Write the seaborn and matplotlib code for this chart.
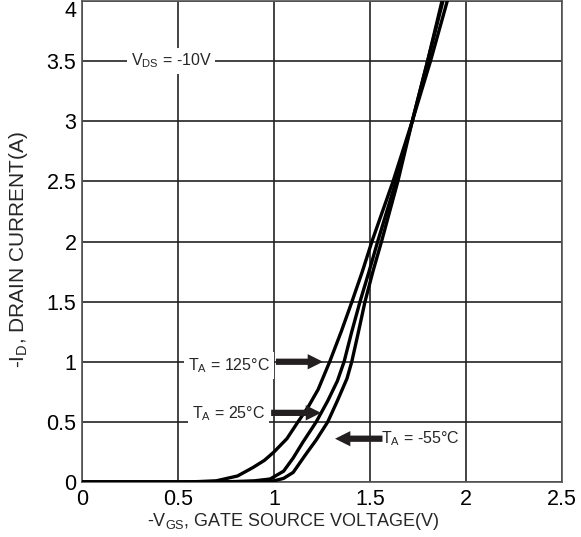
import matplotlib
matplotlib.use("Agg")
import matplotlib.pyplot as plt
import seaborn as sns
import pandas as pd

# Transfer characteristics: -VGS (V) vs -ID (A) at three ambient temperatures
vgs_125 = [0.0, 0.5, 0.6, 0.7, 0.81, 0.89, 0.95, 1.0, 1.067, 1.125, 1.18, 1.23,
           1.29, 1.35, 1.406, 1.46, 1.51, 1.565, 1.62, 1.72, 1.815, 1.92]
id_125 = [0.0, 0.0, 0.003, 0.01, 0.05, 0.12, 0.18, 0.25, 0.36, 0.5, 0.63, 0.77,
          1.0, 1.25, 1.5, 1.75, 2.0, 2.25, 2.5, 3.0, 3.5, 4.1]

vgs_25 = [0.0, 0.7, 0.8, 0.9, 0.98, 1.05, 1.10, 1.15, 1.22, 1.28, 1.33, 1.365,
          1.405, 1.448, 1.495, 1.54, 1.635, 1.72, 1.80, 1.88, 1.90]
id_25 = [0.0, 0.0, 0.004, 0.01, 0.025, 0.09, 0.2, 0.33, 0.5, 0.675, 0.84, 1.0,
         1.25, 1.5, 1.75, 2.0, 2.5, 3.0, 3.5, 4.0, 4.1]

vgs_m55 = [0.0, 0.85, 0.95, 1.0, 1.05, 1.10, 1.17, 1.22, 1.28, 1.33, 1.38, 1.405,
           1.44, 1.474, 1.515, 1.56, 1.645, 1.72, 1.80, 1.875, 1.895]
id_m55 = [0.0, 0.0, 0.004, 0.01, 0.03, 0.08, 0.24, 0.35, 0.5, 0.675, 0.86, 1.0,
          1.25, 1.5, 1.75, 2.0, 2.5, 3.0, 3.5, 4.0, 4.1]

temps = ["125", "25", "-55"]
x_ticks = [0, 0.5, 1, 1.5, 2, 2.5]
x_tick_labels = ["0", "0.5", "1", "1.5", "2", "2.5"]
y_ticks = [0, 0.5, 1, 1.5, 2, 2.5, 3, 3.5, 4]
y_tick_labels = ["0", "0.5", "1", "1.5", "2", "2.5", "3", "3.5", "4"]

frames = []
for t, xs, ys in zip(temps, [vgs_125, vgs_25, vgs_m55], [id_125, id_25, id_m55]):
    frames.append(pd.DataFrame({"vgs": xs, "id": ys, "temp": t}))
df = pd.concat(frames, ignore_index=True)

sns.set_style("white")
plt.rcParams["font.family"] = ["Liberation Sans", "DejaVu Sans"]

fig = plt.figure(figsize=(5.81, 5.37), dpi=100)
ax = fig.add_axes([82 / 581, 1 - 482 / 537, 480 / 581, 481 / 537])

sns.lineplot(data=df, x="vgs", y="id", hue="temp", units="temp",
             estimator=None, sort=False, palette=["black"] * 3,
             linewidth=2.4, legend=False, ax=ax, zorder=3)

ax.set_xlim(0, 2.5)
ax.set_ylim(0, 4)
ax.set_xticks(x_ticks)
ax.set_xticklabels(x_tick_labels)
ax.set_yticks(y_ticks)
ax.set_yticklabels(y_tick_labels)
ax.tick_params(axis="both", length=0, labelsize=15.5, colors="black")
ax.tick_params(axis="y", pad=4)
ax.tick_params(axis="x", pad=5)
ax.get_yticklabels()[-1].set_verticalalignment("top")
ax.grid(True, color="#222222", linewidth=1.2)
ax.set_axisbelow(True)
for side, sp in ax.spines.items():
    sp.set_visible(True)
    sp.set_color("#555555")
    sp.set_linewidth(1.2)

ax.set_xlabel("-V$_{\\mathregular{GS}}$, GATE SOURCE VOLTAGE(V)", fontsize=13)
ax.xaxis.set_label_coords(0.44, -0.06)
ax.set_ylabel("-I$_{\\mathregular{D}}$, DRAIN CURRENT(A)", fontsize=15)
ax.yaxis.set_label_coords(-0.108, 0.484)

box = dict(boxstyle="square,pad=0.25", fc="white", ec="none")
label_kw = dict(fontsize=11.5, ha="center", va="center", bbox=box, zorder=4)

ax.text(0.464, 3.5, "V$_{\\mathregular{DS}}$ = -10V", **label_kw)
ax.text(0.765, 0.97, "T$_{\\mathregular{A}}$ = 125°C", **label_kw)
ax.text(0.765, 0.57, "T$_{\\mathregular{A}}$ = 25°C", **label_kw)
ax.text(1.76, 0.36, "T$_{\\mathregular{A}}$ = -55°C", **label_kw)

arrow = dict(facecolor="#231f20", edgecolor="none", width=4.5, headwidth=11,
             headlength=11, shrink=0)
ax.annotate("", xy=(1.255, 1.0), xytext=(1.01, 1.0), arrowprops=arrow, zorder=5)
ax.annotate("", xy=(1.245, 0.575), xytext=(0.985, 0.575), arrowprops=arrow, zorder=5)
ax.annotate("", xy=(1.318, 0.36), xytext=(1.565, 0.36), arrowprops=arrow, zorder=5)

fig.savefig("out.png", dpi=100)
